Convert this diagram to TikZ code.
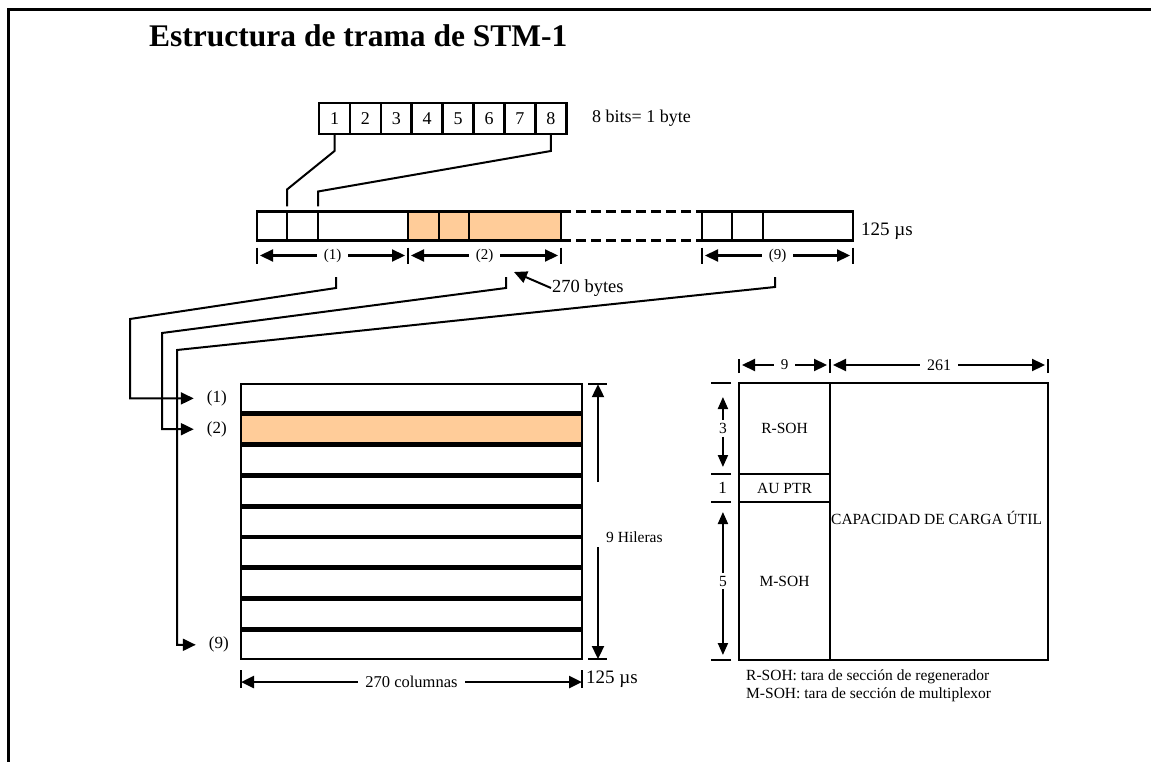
\documentclass[tikz,border=0pt]{standalone}
\usepackage{fontspec}
\setmainfont{Liberation Serif}
\usepackage{tikz}
\usetikzlibrary{arrows.meta,positioning}
\definecolor{Peach}{RGB}{255,204,153}

\begin{document}
\begin{tikzpicture}[x=1pt,y=-1pt,
  every node/.style={font=\fontsize{15.5}{18}\selectfont,inner sep=1pt},
  cell/.style={draw,line width=2.6pt,outer sep=0pt,inner sep=0pt,minimum height=29pt},
  bitbox/.style={cell,minimum width=30.9pt,minimum height=31pt,font=\fontsize{18}{21}\selectfont},
  rowbox/.style={cell,minimum width=341pt,minimum height=28.5pt},
  link/.style={line width=2pt},
  tickln/.style={line width=2.2pt},
  headarr/.style={link,-{Triangle[length=13pt,width=12pt]}},
  small head/.style={link,-{Triangle[length=12pt,width=10pt]}},
  dimarr/.style={line width=2.2pt,{Triangle[length=13pt,width=12pt]}-{Triangle[length=13pt,width=12pt]}},
  lbl/.style={fill=white,inner xsep=7pt,inner ysep=1pt,font=\fontsize{15}{18}\selectfont}]
  \useasboundingbox (0,0) rectangle (1151,762);
  \draw[line width=3pt] (8,762) -- (8,10) -- (1151,10);
  \node[anchor=base west,font=\bfseries\fontsize{31.5}{36}\selectfont] (title) at (148,47) {Estructura de trama de STM-1};

  % one byte
  \node[bitbox] (b1) at (334.5,118.5) {1};
  \foreach \i [remember=\i as \j (initially 1)] in {2,...,8}
    \node[bitbox,right=0pt of b\j] (b\i) {\i};
  \node[anchor=west,font=\fontsize{18}{21}\selectfont] (bitnote) at (591,118) {8 bits= 1 byte};

  % frame as a bit stream
  \node[cell,minimum width=30pt] (f1a) at (272,226) {};
  \node[cell,minimum width=31pt,right=0pt of f1a] (f1b) {};
  \node[cell,minimum width=90pt,right=0pt of f1b] (f1c) {};
  \node[cell,fill=Peach,minimum width=31pt,right=0pt of f1c] (f2a) {};
  \node[cell,fill=Peach,minimum width=30pt,right=0pt of f2a] (f2b) {};
  \node[cell,fill=Peach,minimum width=92pt,right=0pt of f2b] (f2c) {};
  \node[minimum width=141pt,minimum height=29pt,inner sep=0pt,outer sep=0pt,right=0pt of f2c] (fgap) {};
  \node[cell,minimum width=30pt,right=0pt of fgap] (f9a) {};
  \node[cell,minimum width=31pt,right=0pt of f9a] (f9b) {};
  \node[cell,minimum width=90pt,right=0pt of f9b] (f9c) {};
  \draw[line width=2.6pt,dash pattern=on 10pt off 5pt] (fgap.north west) -- (fgap.north east)
    (fgap.south west) -- (fgap.south east);
  \node[anchor=west,font=\fontsize{19}{22}\selectfont] (tframe) at (860,231) {125 µs};

  \draw[link] (b1.south) -- ++(0,17) -- ([yshift=22pt]f1a.north east) -- ([yshift=5pt]f1a.north east);
  \draw[link] (b8.south) -- ++(0,17) -- ([yshift=20pt]f1b.north east) -- ([yshift=5pt]f1b.north east);

  % row lengths
  \foreach \n in {f1a.south west,f2a.south west,f2c.south east,f9a.south west,f9c.south east}
    \draw[tickln] ([yshift=-7pt]\n) -- ++(0,16);
  \draw[dimarr] ([shift={(3pt,-15pt)}]f1a.south west) -- node[lbl] (d1) {(1)} ([shift={(-3pt,-15pt)}]f1c.south east);
  \draw[dimarr] ([shift={(3pt,-15pt)}]f2a.south west) -- node[lbl] (d2) {(2)} ([shift={(-3pt,-15pt)}]f2c.south east);
  \draw[dimarr] ([shift={(3pt,-15pt)}]f9a.south west) -- node[lbl] (d9) {(9)} ([shift={(-3pt,-15pt)}]f9c.south east);
  \node[anchor=west,font=\fontsize{18.5}{21}\selectfont] (bytes) at (551,288) {270 bytes};
  \draw[headarr] (bytes.west) -- ++(-37,-16);

  % nine rows
  \node[rowbox] (row1) at (411.5,398.4) {};
  \node[rowbox,fill=Peach,below=2.3pt of row1] (row2) {};
  \foreach \i [remember=\i as \j (initially 2)] in {3,...,9}
    \node[rowbox,below=2.3pt of row\j] (row\i) {};
  \node[left=13pt of row1,font=\fontsize{17}{20}\selectfont] (in1) {(1)};
  \node[left=13pt of row2,font=\fontsize{17}{20}\selectfont] (in2) {(2)};
  \node[left=11pt of row9,font=\fontsize{17}{20}\selectfont] (in9) {(9)};

  \coordinate (s1) at (336,277);
  \coordinate (s2) at (506,277);
  \coordinate (s9) at (775,277);
  \draw[headarr,shorten >=12pt] (s1) -- ++(0,11) -- (130,319) |- (in1.west);
  \draw[headarr,shorten >=12pt] (s2) -- ++(0,11) -- (162,333) |- (in2.west);
  \draw[headarr,shorten >=12pt] (s9) -- ++(0,10) -- (177,350) |- (in9.west);

  \draw[tickln] ([xshift=6pt]row1.north east) -- ++(19,0);
  \draw[tickln] ([xshift=6pt]row9.south east) -- ++(19,0);
  \node[anchor=west] (rows) at (605,537) {9 Hileras};
  \draw[headarr] ([xshift=16pt,yshift=-98pt]row1.north east) -- ([xshift=16pt]row1.north east);
  \draw[headarr] ([xshift=16pt,yshift=112pt]row9.south east) -- ([xshift=16pt]row9.south east);

  \draw[tickln] ([yshift=-11pt]row9.south west) -- ++(0,18);
  \draw[tickln] ([yshift=-11pt]row9.south east) -- ++(0,18);
  \draw[dimarr] ([yshift=-23pt]row9.south west) -- node[lbl,font=\fontsize{16.5}{19}\selectfont] (cols) {270 columnas} ([yshift=-23pt]row9.south east);
  \node[anchor=west,font=\fontsize{19}{22}\selectfont] (trows) at (585,679) {125 µs};

  % STM-1 frame map
  \node[cell,minimum width=91pt,minimum height=91pt] (rsoh) at (784.5,428.5) {R-SOH};
  \node[cell,minimum width=91pt,minimum height=28pt,below=0pt of rsoh] (auptr) {AU PTR};
  \node[cell,minimum width=91pt,minimum height=158pt,below=0pt of auptr] (msoh) {M-SOH};
  \node[cell,minimum width=218pt,minimum height=277pt,anchor=north west] (payload) at (rsoh.north east) {};
  \node[anchor=west] (paytext) at ([yshift=4pt]payload.west) {CAPACIDAD DE CARGA ÚTIL};

  \foreach \n in {rsoh.north west,rsoh.north east,payload.north east}
    \draw[tickln] ([yshift=10pt]\n) -- ++(0,-14);
  \draw[dimarr] ([shift={(3pt,18pt)}]rsoh.north west) -- node[lbl] (c9) {9} ([shift={(-3pt,18pt)}]rsoh.north east);
  \draw[dimarr] ([shift={(3pt,18pt)}]payload.north west) -- node[lbl,font=\fontsize{16}{19}\selectfont] (c261) {261} ([shift={(-3pt,18pt)}]payload.north east);

  \foreach \n in {rsoh.north west,rsoh.south west,auptr.south west,msoh.south west}
    \draw[tickln] ([xshift=-8pt]\n) -- ++(-20,0);
  \node[left=11pt of rsoh] (n3) {3};
  \node[left=11pt of auptr,font=\fontsize{17}{20}\selectfont] (n1) {1};
  \node[left=11pt of msoh] (n5) {5};
  \draw[small head] ([yshift=2pt]n3.north) -- ([yshift=-14pt]n3.north |- rsoh.north);
  \draw[small head] ([yshift=-2pt]n3.south) -- ([yshift=7pt]n3.south |- rsoh.south);
  \draw[small head] ([yshift=2pt]n5.north) -- ([yshift=-10pt]n5.north |- msoh.north);
  \draw[small head] ([yshift=-2pt]n5.south) -- ([yshift=5pt]n5.south |- msoh.south);

  \node[anchor=base west] (note1) at (745,680) {R-SOH: tara de sección de regenerador};
  \node[anchor=base west] (note2) at (745,698) {M-SOH: tara de sección de multiplexor};
\end{tikzpicture}
\end{document}
